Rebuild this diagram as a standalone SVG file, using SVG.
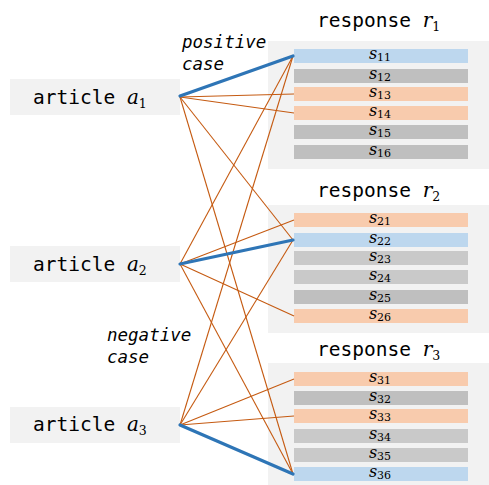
<svg xmlns="http://www.w3.org/2000/svg" width="489" height="485" viewBox="0 0 489 485">
<style>
.box{fill:#F2F2F2}
.blue{fill:#BDD7EE}
.org{fill:#F8CBAD}
.gry{fill:#BFBFBF}
.lgry{fill:#C9C9C9}
.mono{font-family:"DejaVu Sans Mono","Liberation Mono",monospace;font-size:19.5px;fill:#000}
.case{font-family:"DejaVu Sans Mono","Liberation Mono",monospace;font-size:17.5px;font-style:oblique;fill:#000}
.math{font-family:"DejaVu Serif","Liberation Serif",serif;font-style:italic}
.sub{font-family:"DejaVu Serif","Liberation Serif",serif;font-style:normal}
.sl{font-family:"DejaVu Serif","Liberation Serif",serif;font-size:16px;font-style:italic;text-anchor:middle;fill:#000}
.sl tspan.d{font-style:normal;font-size:11px}
.neg{stroke:#C55A11;stroke-width:1.1;fill:none}
.pos{stroke:#2E75B6;stroke-width:3.2;fill:none;stroke-linecap:round}
</style>

<g id="labels">
<text class="case" x="182" y="47.5">positive</text>
<text class="case" x="182" y="69.5">case</text>
<text class="case" x="107" y="341">negative</text>
<text class="case" x="107" y="363">case</text>
</g>

<g id="article-a1">
<rect class="box" x="10" y="79" width="170" height="36"/>
<text class="mono" x="33" y="103.5">article <tspan class="math" font-size="20">a</tspan><tspan class="sub" font-size="12.5" dy="4">1</tspan></text>
</g>
<g id="article-a2">
<rect class="box" x="10" y="246" width="170" height="36"/>
<text class="mono" x="33" y="270.5">article <tspan class="math" font-size="20">a</tspan><tspan class="sub" font-size="12.5" dy="4">2</tspan></text>
</g>
<g id="article-a3">
<rect class="box" x="10" y="407" width="170" height="36"/>
<text class="mono" x="33" y="431">article <tspan class="math" font-size="20">a</tspan><tspan class="sub" font-size="12.5" dy="4">3</tspan></text>
</g>

<g id="response-r1">
<text class="mono" x="317" y="27">response <tspan class="math" font-size="20">r</tspan><tspan class="sub" font-size="12.5" dy="4">1</tspan></text>
<rect class="box" x="268" y="41" width="221" height="128"/>
<g id="s11"><rect class="blue" x="294" y="49" width="174" height="14"/><text class="sl" x="380" y="58.5">s<tspan class="d" dy="2.5">11</tspan></text></g>
<g id="s12"><rect class="gry" x="294" y="69" width="174" height="14"/><text class="sl" x="380" y="78.5">s<tspan class="d" dy="2.5">12</tspan></text></g>
<g id="s13"><rect class="org" x="294" y="87" width="174" height="14"/><text class="sl" x="380" y="96.5">s<tspan class="d" dy="2.5">13</tspan></text></g>
<g id="s14"><rect class="org" x="294" y="106" width="174" height="14"/><text class="sl" x="380" y="115.5">s<tspan class="d" dy="2.5">14</tspan></text></g>
<g id="s15"><rect class="gry" x="294" y="125" width="174" height="14"/><text class="sl" x="380" y="134.5">s<tspan class="d" dy="2.5">15</tspan></text></g>
<g id="s16"><rect class="gry" x="294" y="145" width="174" height="14"/><text class="sl" x="380" y="154.5">s<tspan class="d" dy="2.5">16</tspan></text></g>
</g>

<g id="response-r2">
<text class="mono" x="317" y="197">response <tspan class="math" font-size="20">r</tspan><tspan class="sub" font-size="12.5" dy="4">2</tspan></text>
<rect class="box" x="268" y="205" width="221" height="128"/>
<g id="s21"><rect class="org" x="294" y="213" width="174" height="14"/><text class="sl" x="380" y="222.5">s<tspan class="d" dy="2.5">21</tspan></text></g>
<g id="s22"><rect class="blue" x="294" y="233" width="174" height="14"/><text class="sl" x="380" y="242.5">s<tspan class="d" dy="2.5">22</tspan></text></g>
<g id="s23"><rect class="lgry" x="294" y="251" width="174" height="14"/><text class="sl" x="380" y="260.5">s<tspan class="d" dy="2.5">23</tspan></text></g>
<g id="s24"><rect class="lgry" x="294" y="270" width="174" height="14"/><text class="sl" x="380" y="279.5">s<tspan class="d" dy="2.5">24</tspan></text></g>
<g id="s25"><rect class="gry" x="294" y="290" width="174" height="14"/><text class="sl" x="380" y="299.5">s<tspan class="d" dy="2.5">25</tspan></text></g>
<g id="s26"><rect class="org" x="294" y="309" width="174" height="14"/><text class="sl" x="380" y="318.5">s<tspan class="d" dy="2.5">26</tspan></text></g>
</g>

<g id="response-r3">
<text class="mono" x="317" y="356">response <tspan class="math" font-size="20">r</tspan><tspan class="sub" font-size="12.5" dy="4">3</tspan></text>
<rect class="box" x="268" y="363" width="221" height="122"/>
<g id="s31"><rect class="org" x="294" y="372" width="174" height="14"/><text class="sl" x="380" y="381.5">s<tspan class="d" dy="2.5">31</tspan></text></g>
<g id="s32"><rect class="gry" x="294" y="391" width="174" height="14"/><text class="sl" x="380" y="400.5">s<tspan class="d" dy="2.5">32</tspan></text></g>
<g id="s33"><rect class="org" x="294" y="409" width="174" height="14"/><text class="sl" x="380" y="418.5">s<tspan class="d" dy="2.5">33</tspan></text></g>
<g id="s34"><rect class="lgry" x="294" y="429" width="174" height="14"/><text class="sl" x="380" y="438.5">s<tspan class="d" dy="2.5">34</tspan></text></g>
<g id="s35"><rect class="lgry" x="294" y="448" width="174" height="14"/><text class="sl" x="380" y="457.5">s<tspan class="d" dy="2.5">35</tspan></text></g>
<g id="s36"><rect class="blue" x="294" y="467" width="174" height="14"/><text class="sl" x="380" y="476.5">s<tspan class="d" dy="2.5">36</tspan></text></g>
</g>

<g id="connectors">
<line class="neg" x1="180" y1="97" x2="294" y2="94"/>
<line class="neg" x1="180" y1="97" x2="294" y2="113"/>
<line class="neg" x1="180" y1="97" x2="293" y2="240"/>
<line class="neg" x1="180" y1="97" x2="293" y2="474"/>
<line class="neg" x1="180" y1="264" x2="293" y2="56"/>
<line class="neg" x1="180" y1="264" x2="294" y2="220"/>
<line class="neg" x1="180" y1="264" x2="294" y2="316"/>
<line class="neg" x1="180" y1="264" x2="293" y2="474"/>
<line class="neg" x1="180" y1="425" x2="293" y2="56"/>
<line class="neg" x1="180" y1="425" x2="293" y2="240"/>
<line class="neg" x1="180" y1="425" x2="294" y2="379"/>
<line class="neg" x1="180" y1="425" x2="294" y2="416"/>
<line class="pos" x1="180" y1="96" x2="293" y2="56"/>
<line class="pos" x1="180" y1="264" x2="293" y2="240"/>
<line class="pos" x1="180" y1="425" x2="293" y2="474"/>
</g>
</svg>
